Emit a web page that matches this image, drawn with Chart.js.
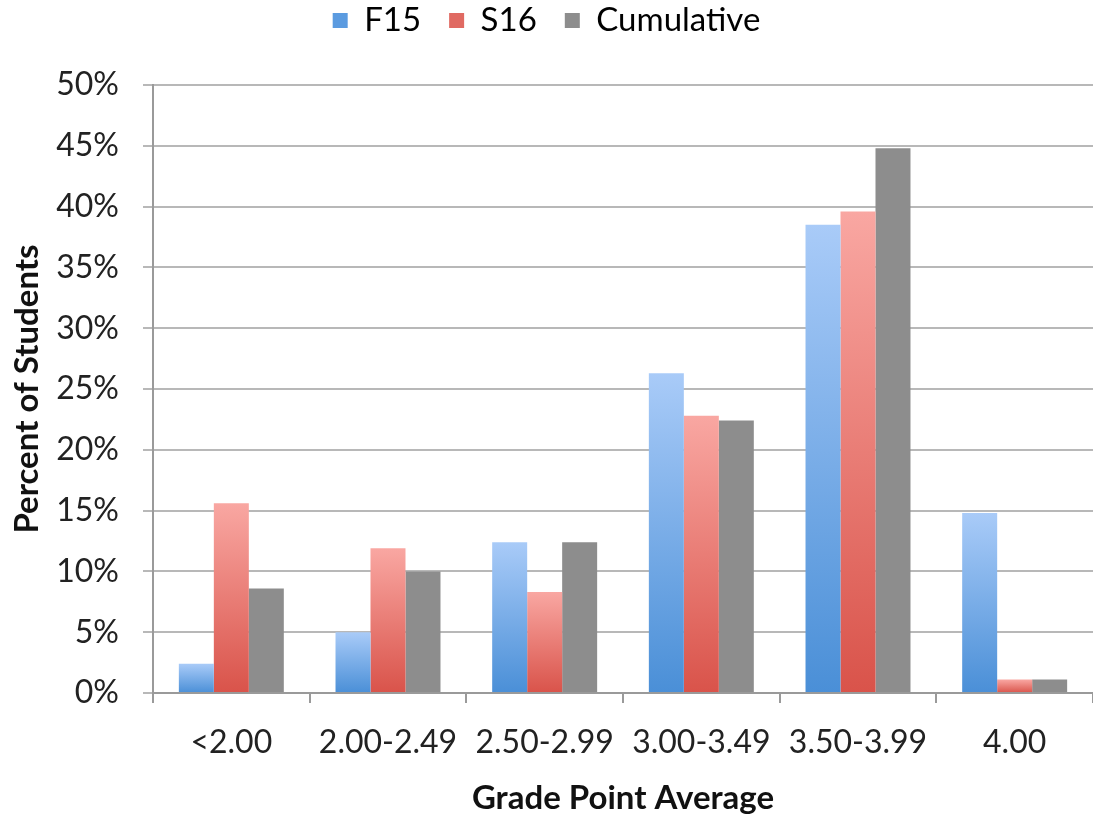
<!DOCTYPE html>
<html>
<head>
<meta charset="utf-8">
<script src="https://cdn.jsdelivr.net/npm/chart.js@4/dist/chart.umd.min.js"></script>
<style>
  html, body { margin: 0; padding: 0; background: #fff; }
  #wrap { width: 1093px; height: 818px; }
</style>
</head>
<body>
<div id="wrap"><canvas id="gpaChart" width="1093" height="818"></canvas></div>
<script>
const categories = ['<2.00', '2.00-2.49', '2.50-2.99', '3.00-3.49', '3.50-3.99', '4.00'];
const f15 = [2.4, 5.0, 12.4, 26.3, 38.5, 14.8];
const s16 = [15.6, 11.9, 8.3, 22.8, 39.6, 1.1];
const cumulative = [8.6, 10.0, 12.4, 22.4, 44.8, 1.1];
const yTicks = [0, 5, 10, 15, 20, 25, 30, 35, 40, 45, 50];

const FONT = 'Lato, "Open Sans", sans-serif';

// 막대마다 위(밝음) → 아래(진함) 그라데이션
function barGradient(top, bottom) {
    return (c) => {
        const chart = c.chart;
        const yScale = chart.scales.y;
        if (c.dataIndex === undefined || !chart.chartArea || !yScale) return bottom;
        const v = c.dataset.data[c.dataIndex];
        const y0 = yScale.getPixelForValue(0);
        const y1 = yScale.getPixelForValue(v);
        if (!isFinite(y0) || !isFinite(y1) || y0 === y1) return bottom;
        const g = chart.ctx.createLinearGradient(0, y1, 0, y0);
        g.addColorStop(0, top);
        g.addColorStop(1, bottom);
        return g;
    };
}

const legendColors = ['#5b9be0', '#e06a62', '#8d8d8d'];

// 범례 아래 여백을 늘려서 플롯 상단을 맞춤
const legendSpacer = {
    id: 'legendSpacer',
    beforeInit(chart) {
        const origFit = chart.legend.fit;
        chart.legend.fit = function () {
            origFit.call(this);
            this.height += 38;
        };
    }
};

new Chart(document.getElementById('gpaChart'), {
    type: 'bar',
    data: {
        labels: categories,
        datasets: [
            { label: 'F15', data: f15, backgroundColor: barGradient('#a9cbf8', '#4a8fd7') },
            { label: 'S16', data: s16, backgroundColor: barGradient('#f9a7a2', '#d9534a') },
            { label: 'Cumulative', data: cumulative, backgroundColor: '#8d8d8d' }
        ]
    },
    plugins: [legendSpacer],
    options: {
        responsive: false,
        animation: false,
        devicePixelRatio: 1,
        layout: { padding: { top: -24, right: 0, bottom: 0, left: 0 } },
        datasets: { bar: { categoryPercentage: 0.67, barPercentage: 1.0, borderWidth: 0 } },
        plugins: {
            tooltip: { enabled: false },
            legend: {
                position: 'top',
                labels: {
                    font: { family: FONT, size: 33 },
                    color: '#222',
                    boxWidth: 15,
                    boxHeight: 15,
                    padding: 28,
                    generateLabels: (chart) => chart.data.datasets.map((ds, i) => ({
                        text: ds.label,
                        fillStyle: legendColors[i],
                        strokeStyle: legendColors[i],
                        lineWidth: 0,
                        datasetIndex: i
                    }))
                }
            }
        },
        scales: {
            x: {
                grid: { offset: true, drawOnChartArea: false, color: '#9a9a9a', tickLength: 10, lineWidth: 2 },
                border: { color: '#9a9a9a', width: 2 },
                ticks: { font: { family: FONT, size: 32 }, color: '#222', padding: 20, maxRotation: 0 },
                title: { display: true, text: 'Grade Point Average', font: { family: FONT, size: 33, weight: 'bold' }, color: '#111', padding: { top: 10, bottom: 0 } },
                afterFit: (s) => { s.height = 125; }
            },
            y: {
                min: 0,
                max: 50,
                afterBuildTicks: (s) => { s.ticks = yTicks.map(v => ({ value: v })); },
                grid: { color: '#b8b8b8', lineWidth: 2, tickLength: 10 },
                border: { color: '#9a9a9a', width: 2 },
                ticks: { font: { family: FONT, size: 32 }, color: '#222', padding: 24, callback: (v) => v + '%' },
                title: { display: true, text: 'Percent of Students', font: { family: FONT, size: 33, weight: 'bold' }, color: '#111', padding: { top: 8, bottom: 0 } },
                afterFit: (s) => { s.width = 153; }
            }
        }
    }
});
</script>
</body>
</html>
